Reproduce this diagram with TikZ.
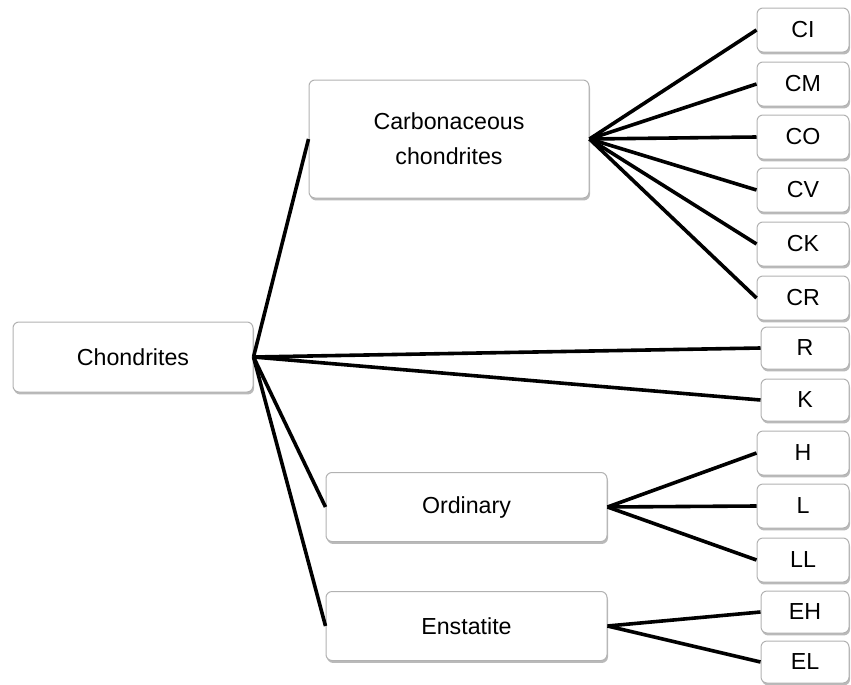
\documentclass[tikz,border=0pt]{standalone}
\usepackage{fontspec}
\setmainfont{Liberation Sans}
\usepackage{tikz}
\usetikzlibrary{positioning,shadows}
\definecolor{boxgray}{gray}{0.7}

\begin{document}
\begin{tikzpicture}[x=0.5pt, y=-0.5pt,
        box/.style={draw=boxgray, line width=0.5pt, rounded corners=3pt, fill=white,
            drop shadow={shadow xshift=0.5pt, shadow yshift=-1.2pt, fill=black!60, opacity=0.45},
            align=center, inner sep=0pt, font=\fontsize{11.6}{17.5}\selectfont},
        leafbox/.style={box, minimum width=46pt, minimum height=22pt},
        smallleaf/.style={box, minimum width=44pt, minimum height=21pt},
        link/.style={line width=1.8pt}]
        \useasboundingbox (0,0) rectangle (851,685);
        % main groups
        \node[box, minimum width=120pt, minimum height=35pt] (chon) at (133,357) {Chondrites};
        \node[box, minimum width=140pt, minimum height=59pt] (carb) at (449,139) {Carbonaceous\\chondrites};
        \node[box, minimum width=140.5pt, minimum height=34.5pt] (ord) at (466.5,507) {Ordinary};
        \node[box, minimum width=140.5pt, minimum height=34.5pt] (enst) at (466.5,626) {Enstatite};
        % classes
        \node[leafbox] (ci) at (803,30) {CI};
        \node[leafbox] (cm) at (803,84) {CM};
        \node[leafbox] (co) at (803,137) {CO};
        \node[leafbox] (cv) at (803,190) {CV};
        \node[leafbox] (ck) at (803,244) {CK};
        \node[leafbox] (cr) at (803,298) {CR};
        \node[smallleaf] (r) at (805,348) {R};
        \node[smallleaf] (k) at (805,400) {K};
        \node[leafbox] (h) at (803,453) {H};
        \node[leafbox] (l) at (803,506) {L};
        \node[leafbox] (ll) at (803,560) {LL};
        \node[smallleaf] (eh) at (805,612) {EH};
        \node[smallleaf] (el) at (805,662) {EL};
        % connectors
        \draw[link] (chon.east) -- (carb.west);
        \draw[link] (chon.east) -- (r.west);
        \draw[link] (chon.east) -- (k.west);
        \draw[link] (chon.east) -- (ord.west);
        \draw[link] (chon.east) -- (enst.west);
        \draw[link] (carb.east) -- (ci.west);
        \draw[link] (carb.east) -- (cm.west);
        \draw[link] (carb.east) -- (co.west);
        \draw[link] (carb.east) -- (cv.west);
        \draw[link] (carb.east) -- (ck.west);
        \draw[link] (carb.east) -- (cr.west);
        \draw[link] (ord.east) -- (h.west);
        \draw[link] (ord.east) -- (l.west);
        \draw[link] (ord.east) -- (ll.west);
        \draw[link] (enst.east) -- (eh.west);
        \draw[link] (enst.east) -- (el.west);
    \end{tikzpicture}
\end{document}
